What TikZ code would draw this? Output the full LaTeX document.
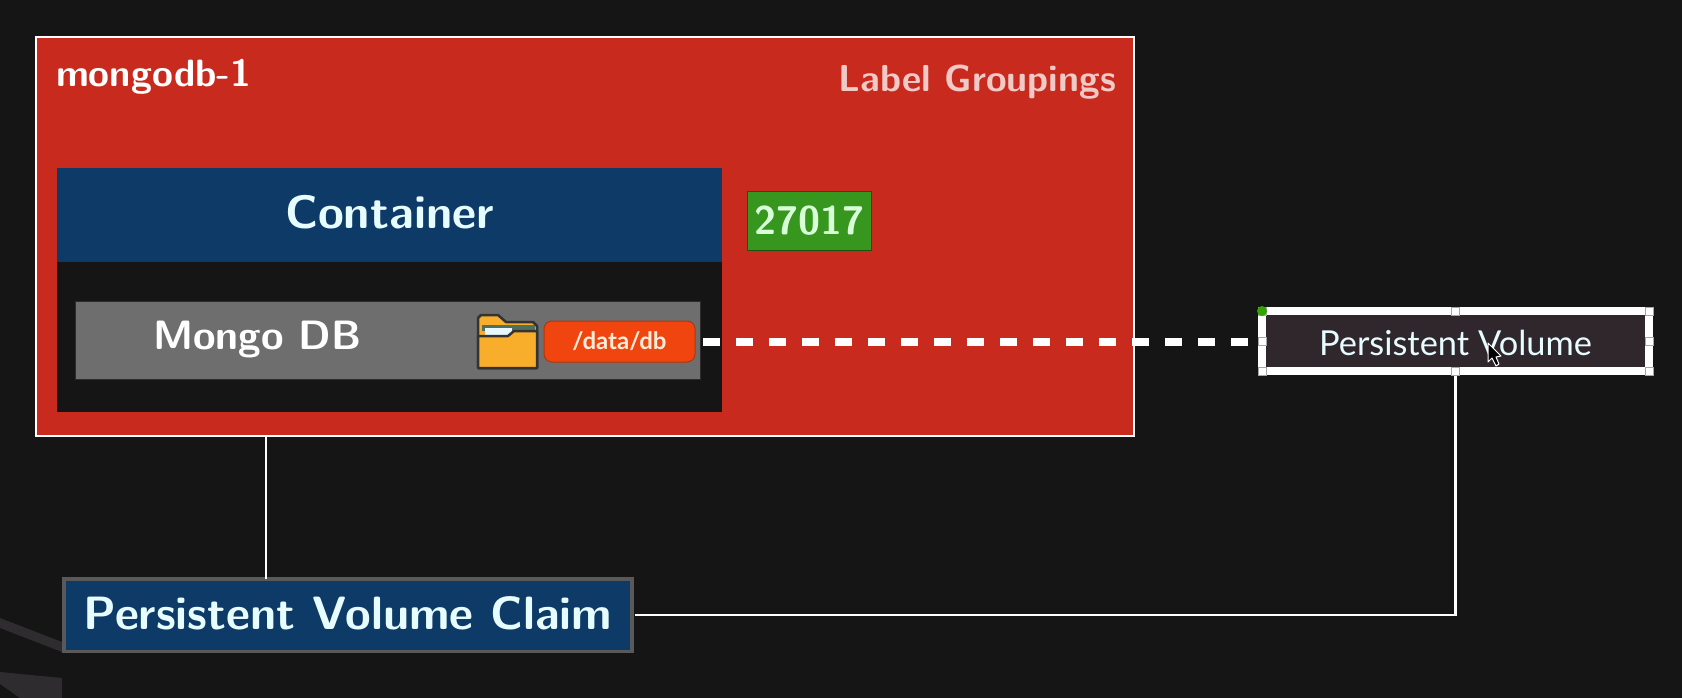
\documentclass[tikz,border=0pt]{standalone}
\usepackage{fontspec}
\newfontfamily\uifont{Lato}
\usepackage{tikz}
\definecolor{backdrop}{HTML}{151515}
\definecolor{podred}{HTML}{C92A1E}
\definecolor{navy}{HTML}{0D3A66}
\definecolor{iceblue}{HTML}{E6FCFF}
\definecolor{slategrey}{HTML}{6E6E6E}
\definecolor{portgreen}{HTML}{36961E}
\definecolor{pathorange}{HTML}{F0450F}
\definecolor{volumeplum}{HTML}{30272D}
\definecolor{foldergold}{HTML}{F9AE2B}
\definecolor{folderteal}{HTML}{4F6F5F}
\definecolor{ghostgrey}{HTML}{2E2C2E}
\tikzset{%
  every block/.style={
    outer sep=0pt,
    inner sep=0pt,
    align=center
  },
  heavy label/.style={
    every block,
    font=\sffamily\bfseries\fontsize{#1}{#1}\selectfont
  },
  wire/.style={
    draw=white,
    line width=2.5pt
  },
  handle/.style={
    rectangle,
    draw=black!35,
    fill=white,
    line width=0.6pt,
    inner sep=0pt,
    outer sep=0pt,
    minimum size=8pt
  },
}

\begin{document}
\begin{tikzpicture}[x=1pt, y=-1pt]
\useasboundingbox[fill=backdrop] (0,0) rectangle (1682,698);

\fill[ghostgrey] (0,618) -- (62,642) -- (62,652) -- (0,628) -- cycle;
\fill[ghostgrey] (0,672) -- (62,678) -- (62,698) -- (20,698) -- (0,684) -- cycle;

\node[every block, draw=white, line width=2.5pt, fill=podred, minimum width=1098pt, minimum height=399pt] (mongoPod) at (585,236.5) {};
\node[every block, fill=backdrop, minimum width=665pt, minimum height=150pt] (containerBody) at (389.5,337) {};
\node[heavy label=47, fill=navy, text=iceblue, text depth=6pt, minimum width=665pt, minimum height=94pt] (containerHead) at (389.5,215) {Container};
\node[every block, fill=slategrey, draw=black!60!slategrey, line width=1pt, minimum width=625pt, minimum height=78pt] (mongoBar) at (387.5,340) {};
\node[heavy label=41, text=white, anchor=west] (mongoName) at (153,339) {Mongo DB};
\node[heavy label=38, text=white, anchor=west] (podName) at (56,77) {mongodb-1};
\node[heavy label=37.5, text=white!75!podred, anchor=east] (groupName) at (1116,82) {Label Groupings};
\node[heavy label=40, fill=portgreen, draw=black!45!portgreen, line width=1pt, text=white!85!green, minimum width=124pt, minimum height=59pt] (portBox) at (809,220.5) {27017};

\node[every block, fill=pathorange, draw=black!25!pathorange, line width=1pt, rounded corners=8pt, text=white!85!orange, font=\uifont\bfseries\fontsize{24}{24}\selectfont, minimum width=151pt, minimum height=41pt] (dataPath) at (619.5,341.5) {/data/db};

\draw[black!80, fill=foldergold, line width=2.5pt, line join=round] (478,368) -- (478,318) -- (481,315) -- (498,315) -- (506,322) -- (533,322) -- (537,326) -- (537,368) -- cycle;
\fill[folderteal] (482,325) rectangle (535,331);
\fill[white!90!cyan] (485,328) rectangle (512,337);
\draw[black!80, fill=foldergold, line width=2.5pt, line join=round] (478,368) -- (478,336) -- (508,336) -- (514,331) -- (537,331) -- (537,368) -- cycle;

\node[every block, fill=navy, draw=black!65!white, line width=3.5pt, text=iceblue, text depth=4pt, font=\sffamily\bfseries\fontsize{46.7}{46.7}\selectfont, minimum width=568pt, minimum height=72.5pt] (claimBox) at (348,615) {Persistent Volume Claim};
\node[every block, fill=volumeplum, draw=white, line width=7.5pt, text=iceblue, text height=29pt, text depth=0pt, font=\uifont\fontsize{34.4}{34.4}\selectfont, minimum width=387pt, minimum height=60pt] (volumeBox) at (1455.5,341) {Persistent Volume};

\coordinate (podFoot) at (266,436);
\draw[wire] (podFoot) -- (podFoot |- claimBox.north);
\draw[wire] (claimBox.east) ++(3pt,0) -| (volumeBox.south);
\draw[white, line width=8pt, dash pattern=on 17pt off 16pt, shorten <=8pt, shorten >=10pt] (dataPath.east) -- (dataPath.east -| volumeBox.west);

\foreach \corner [count=\i] in {north west,north,north east,east,south east,south,south west,west}
  \node[handle] (handle\i) at (volumeBox.\corner) {};
\fill[green!55!black!80!yellow] (volumeBox.north west) circle (5pt);

\draw[white, fill=black, line width=1pt, line join=round] (1488,343) -- (1488,362) -- (1492,358) -- (1496,366) -- (1499,364) -- (1496,357) -- (1501,356) -- cycle;
\end{tikzpicture}
\end{document}
